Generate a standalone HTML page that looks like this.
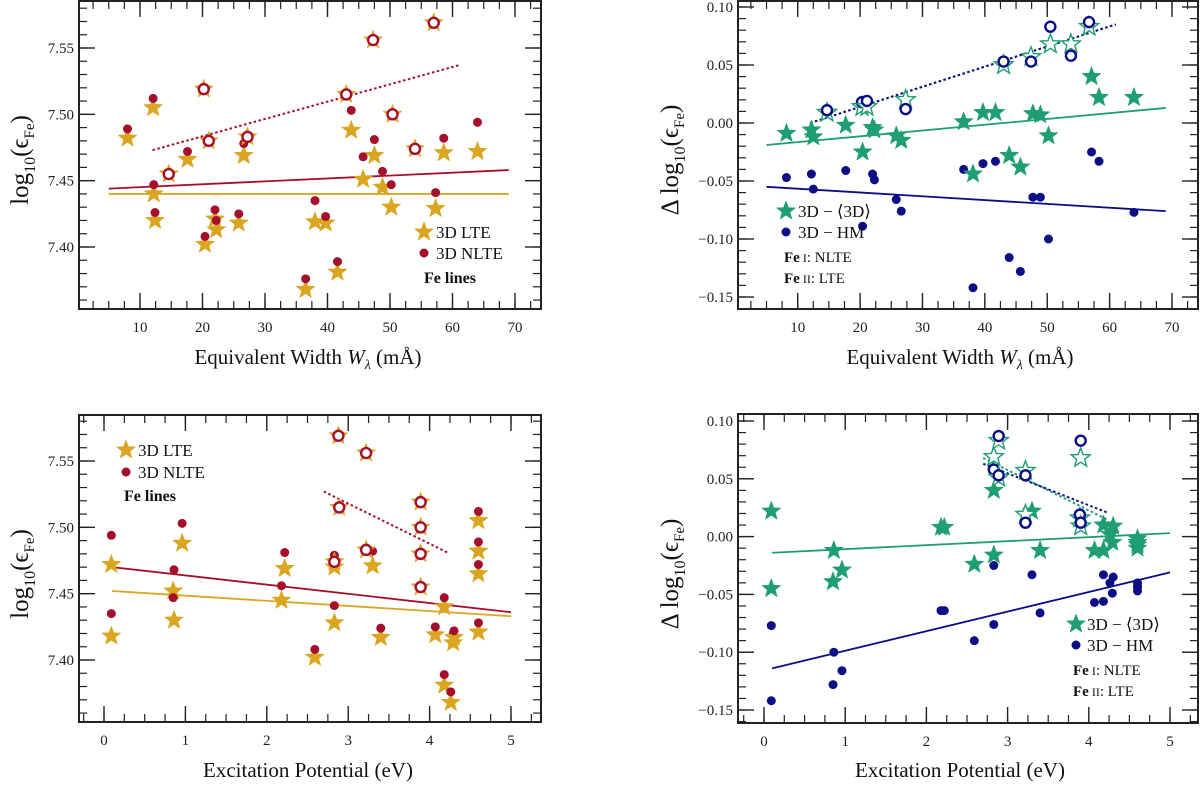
<!DOCTYPE html>
<html><head><meta charset="utf-8">
<style>
html,body{margin:0;padding:0;background:#fff;}
svg{display:block;font-family:"Liberation Serif","DejaVu Serif",serif;}
</style></head>
<body>
<svg id="fig" width="1200" height="786" viewBox="0 0 1200 786" xmlns="http://www.w3.org/2000/svg"></svg>
<script>
// ---- Panel A: abundance vs equivalent width ----
const ewA = [8.0,12.1,12.2,12.4,17.6,20.4,22.0,22.2,25.8,26.6,36.5,38.0,39.7,41.6,43.8,45.7,47.5,48.8,50.2,57.3,58.6,64.0];
const lteA = [7.482,7.505,7.440,7.420,7.466,7.402,7.421,7.413,7.418,7.469,7.368,7.419,7.418,7.381,7.488,7.451,7.469,7.445,7.430,7.429,7.471,7.472];
const nlteA = [7.489,7.512,7.447,7.426,7.472,7.408,7.428,7.420,7.425,7.478,7.376,7.435,7.423,7.389,7.503,7.468,7.481,7.457,7.447,7.441,7.482,7.494];
const ewA2 = [14.6,20.2,21.0,27.2,43.0,47.3,50.4,54.0,57.0];
const ltA2 = [7.455,7.519,7.480,7.483,7.515,7.556,7.500,7.474,7.569];
const fitA = {lteX:[5,69],lteY:[7.440,7.440],nlteX:[5,69],nlteY:[7.444,7.458],fe2X:[12,61],fe2Y:[7.473,7.537]};
// ---- Panel B: differences vs equivalent width ----
const ewB = [8.2,12.2,12.5,17.7,20.4,22.0,22.3,25.8,26.6,36.6,38.1,39.7,41.7,43.9,45.7,47.7,48.9,50.2,57.1,58.3,63.9];
const d3dB = [-0.009,-0.006,-0.012,-0.002,-0.025,-0.004,-0.006,-0.011,-0.015,0.001,-0.044,0.009,0.009,-0.028,-0.038,0.008,0.007,-0.011,0.040,0.022,0.022];
const dhmB = [-0.047,-0.044,-0.057,-0.041,-0.089,-0.044,-0.049,-0.066,-0.076,-0.040,-0.142,-0.035,-0.033,-0.116,-0.128,-0.064,-0.064,-0.100,-0.025,-0.033,-0.077];
const ewB2 = [14.7,20.3,21.1,27.3,43.0,47.4,50.5,53.8,56.7];
const d3dB2 = [0.009,0.014,0.014,0.020,0.050,0.057,0.068,0.068,0.083];
const dhmB2 = [0.011,0.018,0.019,0.012,0.053,0.053,0.083,0.058,0.087];
const fitB = {gX:[5,69],gY:[-0.019,0.013],nX:[5,69],nY:[-0.055,-0.076],fe2X:[12,61],fe2Y:[0.000,0.085]};
// ---- Panel C: abundance vs excitation potential ----
const epC = [0.09,0.09,0.85,0.86,0.96,2.18,2.22,2.59,2.83,2.83,3.30,3.40,4.07,4.18,4.18,4.26,4.29,4.30,4.60,4.60,4.60,4.60];
const lteC = [7.418,7.472,7.452,7.430,7.488,7.445,7.469,7.402,7.470,7.428,7.471,7.417,7.419,7.440,7.381,7.368,7.413,7.417,7.505,7.482,7.465,7.421];
const nlteC = [7.435,7.494,7.447,7.468,7.503,7.456,7.481,7.408,7.479,7.441,7.482,7.424,7.425,7.447,7.389,7.376,7.420,7.422,7.512,7.489,7.472,7.428];
const epC2 = [2.88,2.89,2.83,3.22,3.22,3.89,3.89,3.89,3.89];
const ltC2 = [7.569,7.515,7.474,7.556,7.483,7.519,7.500,7.480,7.455];
const fitC = {lteX:[0.1,5.0],lteY:[7.452,7.433],nlteX:[0.1,5.0],nlteY:[7.470,7.436],fe2X:[2.7,4.22],fe2Y:[7.527,7.481]};
// ---- Panel D: differences vs excitation potential ----
const epD = [0.09,0.09,0.86,0.85,0.96,2.18,2.22,2.59,2.83,2.83,3.30,3.40,4.07,4.18,4.18,4.26,4.29,4.30,4.60,4.60,4.60,4.60];
const d3dD = [0.022,-0.045,-0.012,-0.039,-0.029,0.008,0.008,-0.024,-0.016,0.040,0.022,-0.012,-0.012,0.010,-0.012,0.002,-0.005,0.009,-0.002,-0.007,-0.010,-0.005];
const dhmD = [-0.077,-0.142,-0.100,-0.128,-0.116,-0.064,-0.064,-0.090,-0.076,-0.025,-0.033,-0.066,-0.057,-0.033,-0.056,-0.040,-0.049,-0.035,-0.040,-0.044,-0.047,-0.043];
const epD2 = [2.83,2.89,2.89,3.22,3.22,3.90,3.89,3.90];
const d3dD2 = [0.069,0.083,0.051,0.019,0.057,0.068,0.016,0.009];
const dhmD2 = [0.058,0.087,0.053,0.012,0.053,0.083,0.019,0.012];
const fitD = {gX:[0.1,5.0],gY:[-0.014,0.003],nX:[0.1,5.0],nY:[-0.114,-0.031],fe2X:[2.7,4.22],fe2Y:[0.063,0.021],fe2gY:[0.068,0.015]};

const GOLD="#DAA520", RED="#A50F2B", GREEN="#1E9E72", NAVY="#0B0E85";
const NS="http://www.w3.org/2000/svg";
const svg=document.getElementById('fig');
function mk(tag,attrs,parent){const e=document.createElementNS(NS,tag);for(const k in attrs)e.setAttribute(k,attrs[k]);(parent||svg).appendChild(e);return e;}
function starPts(cx,cy,R){const r=R*0.42;let p=[];for(let i=0;i<10;i++){const a=-Math.PI/2+i*Math.PI/5;const rr=i%2?r:R;p.push((cx+rr*Math.cos(a)).toFixed(1)+','+(cy+rr*Math.sin(a)).toFixed(1));}return p.join(' ');}
function lin(d0,d1,p0,p1){return v=>p0+(v-d0)*(p1-p0)/(d1-d0);}

function makePanel(name,box,xs,ys,xt,yt,xminor,yminor,xfmt,yfmt){
  const g=mk('g',{});
  
  
  const ax=mk('g',{},g);
  
  
  const [L,T,R,B]=box;
  for(let v=xminor[0];v<=xminor[1]+1e-9;v+=xminor[2]){const x=xs(v);if(x<L||x>R)continue;
    mk('line',{x1:x,x2:x,y1:B,y2:B-8,stroke:'#222','stroke-width':1.2},ax);mk('line',{x1:x,x2:x,y1:T,y2:T+8,stroke:'#222','stroke-width':1.2},ax);}
  for(let v=yminor[0];v<=yminor[1]+1e-9;v+=yminor[2]){const y=ys(v);if(y<T||y>B)continue;
    mk('line',{x1:L,x2:L+8,y1:y,y2:y,stroke:'#222','stroke-width':1.2},ax);mk('line',{x1:R,x2:R-8,y1:y,y2:y,stroke:'#222','stroke-width':1.2},ax);}
  xt.forEach(v=>{const x=xs(v);
    mk('line',{x1:x,x2:x,y1:B,y2:B-16,stroke:'#222','stroke-width':1.4},ax);mk('line',{x1:x,x2:x,y1:T,y2:T+16,stroke:'#222','stroke-width':1.4},ax);
    const t=mk('text',{x:x,y:B+23,'text-anchor':'middle','font-size':15,fill:'#222'},ax);t.textContent=xfmt(v);
    
    });
  yt.forEach(v=>{const y=ys(v);
    mk('line',{x1:L,x2:L+16,y1:y,y2:y,stroke:'#222','stroke-width':1.4},ax);mk('line',{x1:R,x2:R-16,y1:y,y2:y,stroke:'#222','stroke-width':1.4},ax);
    const t=mk('text',{x:L-5,y:y+5,'text-anchor':'end','font-size':15,fill:'#222'},ax);t.textContent=yfmt(v);
    
    });
  mk('rect',{x:L,y:T,width:R-L,height:B-T,fill:'none',stroke:'#222','stroke-width':2},ax);
  return g;
}
function star(g,x,y,color,open,nm){const s=mk('polygon',{points:starPts(x,y,10),fill:open?'#fff':color,stroke:color,'stroke-width':open?1.4:0.5},g);
  
  }
function dot(g,x,y,color,open,nm){const c=mk('circle',{cx:x,cy:y,r:open?5:4.5,fill:open?'#fff':color,stroke:color,'stroke-width':open?2.4:0},g);
  
  }
function fitLine(g,xs,ys,X,Y,color,dash,nm){const l=mk('line',{x1:xs(X[0]),y1:ys(Y[0]),x2:xs(X[1]),y2:ys(Y[1]),stroke:color,'stroke-width':dash?2:1.8,'stroke-dasharray':dash?'2.5,2.5':'none'},g);
  
  }
function txt(g,x,y,s,size,opts,nm){const t=mk('text',Object.assign({x:x,y:y,'font-size':size,fill:'#111'},opts||{}),g);t.innerHTML=s;
  
  return t;}

const f2=v=>v.toFixed(2), f0=v=>String(v);
const fd=v=>(v<0?'\u22120':'')+(v<0?(-v).toFixed(2).slice(1):v.toFixed(2));
const YT='log<tspan font-size="16" dy="7">10</tspan><tspan dy="-7">(ϵ</tspan><tspan font-size="15" dy="6">Fe</tspan><tspan dy="-6">)</tspan>';

// Panel A
(function(){
  const xs=lin(10,70,140,515), ys=lin(7.40,7.55,247,48);
  const g=makePanel('abundance-vs-ew-panel',[79,1,541,309],xs,ys,[10,20,30,40,50,60,70],[7.40,7.45,7.50,7.55],[0,74,2.5],[7.35,7.58,0.01],f0,f2);
  fitLine(g,xs,ys,fitA.lteX,fitA.lteY,GOLD,false,'lte-fit-line');
  fitLine(g,xs,ys,fitA.nlteX,fitA.nlteY,RED,false,'nlte-fit-line');
  fitLine(g,xs,ys,fitA.fe2X,fitA.fe2Y,RED,true,'fe2-fit-line');
  ewA.forEach((e,i)=>{star(g,xs(e),ys(lteA[i]),GOLD,false,'lte-point');dot(g,xs(e),ys(nlteA[i]),RED,false,'nlte-point');});
  ewA2.forEach((e,i)=>{star(g,xs(e),ys(ltA2[i]),GOLD,false,'fe2-lte-point');dot(g,xs(e),ys(ltA2[i]),RED,true,'fe2-nlte-point');});
  star(g,424,232,GOLD,false,'legend-lte-marker');txt(g,436,238,'3D LTE',17,{},'legend-lte');
  dot(g,424,253,RED,false,'legend-nlte-marker');txt(g,436,259,'3D NLTE',17,{},'legend-nlte');
  txt(g,424,283,'Fe lines',16,{'font-weight':'bold'},'legend-fe-lines');
  txt(g,308,364,'Equivalent Width <tspan font-style="italic">W</tspan><tspan font-style="italic" font-size="14" dy="5">λ</tspan><tspan dy="-5"> (mÅ)</tspan>',21,{'text-anchor':'middle'},'x-axis-title');
  txt(g,0,0,YT,25,{'text-anchor':'middle',transform:'translate(28,160) rotate(-90)'},'y-axis-title');
})();
// Panel B
(function(){
  const xs=lin(10,70,797.7,1172), ys=lin(-0.15,0.10,297,7);
  const g=makePanel('diff-vs-ew-panel',[738,1,1198,309],xs,ys,[10,20,30,40,50,60,70],[-0.15,-0.10,-0.05,0,0.05,0.10],[0,74,2.5],[-0.16,0.11,0.01],f0,fd);
  fitLine(g,xs,ys,fitB.gX,fitB.gY,GREEN,false,'3d-mean-fit-line');
  fitLine(g,xs,ys,fitB.nX,fitB.nY,NAVY,false,'hm-fit-line');
  fitLine(g,xs,ys,fitB.fe2X,fitB.fe2Y,GREEN,true,'fe2-3d-fit-line');
  fitLine(g,xs,ys,fitB.fe2X,fitB.fe2Y,NAVY,true,'fe2-hm-fit-line');
  ewB.forEach((e,i)=>{star(g,xs(e),ys(d3dB[i]),GREEN,false,'3d-mean-point');dot(g,xs(e),ys(dhmB[i]),NAVY,false,'hm-point');});
  ewB2.forEach((e,i)=>{star(g,xs(e),ys(d3dB2[i]),GREEN,true,'fe2-3d-mean-point');dot(g,xs(e),ys(dhmB2[i]),NAVY,true,'fe2-hm-point');});
  star(g,786,211,GREEN,false,'legend-3d-marker');txt(g,798,217,'3D − ⟨3D⟩',17,{},'legend-3d-mean');
  dot(g,786,232,NAVY,false,'legend-hm-marker');txt(g,798,238,'3D − HM',17,{},'legend-hm');
  txt(g,784,262,'<tspan font-weight="bold">Fe</tspan><tspan font-size="12"> I</tspan>:  NLTE',15,{},'legend-fe1');
  txt(g,784,283,'<tspan font-weight="bold">Fe</tspan><tspan font-size="12"> II</tspan>:  LTE',15,{},'legend-fe2');
  txt(g,960,364,'Equivalent Width <tspan font-style="italic">W</tspan><tspan font-style="italic" font-size="14" dy="5">λ</tspan><tspan dy="-5"> (mÅ)</tspan>',21,{'text-anchor':'middle'},'x-axis-title');
  txt(g,0,0,'Δ '+YT,25,{'text-anchor':'middle',transform:'translate(678,160) rotate(-90)'},'y-axis-title');
})();
// Panel C
(function(){
  const xs=lin(0,5,104,511), ys=lin(7.40,7.55,660,461);
  const g=makePanel('abundance-vs-ep-panel',[79,415,541,722],xs,ys,[0,1,2,3,4,5],[7.40,7.45,7.50,7.55],[-0.25,5.5,0.25],[7.35,7.58,0.01],f0,f2);
  fitLine(g,xs,ys,fitC.lteX,fitC.lteY,GOLD,false,'lte-fit-line');
  fitLine(g,xs,ys,fitC.nlteX,fitC.nlteY,RED,false,'nlte-fit-line');
  fitLine(g,xs,ys,fitC.fe2X,fitC.fe2Y,RED,true,'fe2-fit-line');
  epC.forEach((e,i)=>{star(g,xs(e),ys(lteC[i]),GOLD,false,'lte-point');dot(g,xs(e),ys(nlteC[i]),RED,false,'nlte-point');});
  epC2.forEach((e,i)=>{star(g,xs(e),ys(ltC2[i]),GOLD,false,'fe2-lte-point');dot(g,xs(e),ys(ltC2[i]),RED,true,'fe2-nlte-point');});
  star(g,126,450,GOLD,false,'legend-lte-marker');txt(g,138,456,'3D LTE',17,{},'legend-lte');
  dot(g,126,472,RED,false,'legend-nlte-marker');txt(g,138,478,'3D NLTE',17,{},'legend-nlte');
  txt(g,124,501,'Fe lines',16,{'font-weight':'bold'},'legend-fe-lines');
  txt(g,308,777,'Excitation Potential (eV)',21,{'text-anchor':'middle'},'x-axis-title');
  txt(g,0,0,YT,25,{'text-anchor':'middle',transform:'translate(28,574) rotate(-90)'},'y-axis-title');
})();
// Panel D
(function(){
  const xs=lin(0,5,764,1170), ys=lin(-0.15,0.10,710,421);
  const g=makePanel('diff-vs-ep-panel',[738,414,1198,723],xs,ys,[0,1,2,3,4,5],[-0.15,-0.10,-0.05,0,0.05,0.10],[-0.25,5.5,0.25],[-0.16,0.11,0.01],f0,fd);
  fitLine(g,xs,ys,fitD.gX,fitD.gY,GREEN,false,'3d-mean-fit-line');
  fitLine(g,xs,ys,fitD.nX,fitD.nY,NAVY,false,'hm-fit-line');
  fitLine(g,xs,ys,fitD.fe2X,fitD.fe2gY,GREEN,true,'fe2-3d-fit-line');
  fitLine(g,xs,ys,fitD.fe2X,fitD.fe2Y,NAVY,true,'fe2-hm-fit-line');
  epD.forEach((e,i)=>{star(g,xs(e),ys(d3dD[i]),GREEN,false,'3d-mean-point');dot(g,xs(e),ys(dhmD[i]),NAVY,false,'hm-point');});
  epD2.forEach((e,i)=>{star(g,xs(e),ys(d3dD2[i]),GREEN,true,'fe2-3d-mean-point');dot(g,xs(e),ys(dhmD2[i]),NAVY,true,'fe2-hm-point');});
  star(g,1076,624,GREEN,false,'legend-3d-marker');txt(g,1087,630,'3D − ⟨3D⟩',17,{},'legend-3d-mean');
  dot(g,1076,645,NAVY,false,'legend-hm-marker');txt(g,1087,651,'3D − HM',17,{},'legend-hm');
  txt(g,1073,675,'<tspan font-weight="bold">Fe</tspan><tspan font-size="12"> I</tspan>:  NLTE',15,{},'legend-fe1');
  txt(g,1073,696,'<tspan font-weight="bold">Fe</tspan><tspan font-size="12"> II</tspan>:  LTE',15,{},'legend-fe2');
  txt(g,960,777,'Excitation Potential (eV)',21,{'text-anchor':'middle'},'x-axis-title');
  txt(g,0,0,'Δ '+YT,25,{'text-anchor':'middle',transform:'translate(678,574) rotate(-90)'},'y-axis-title');
})();
</script>
</body></html>
